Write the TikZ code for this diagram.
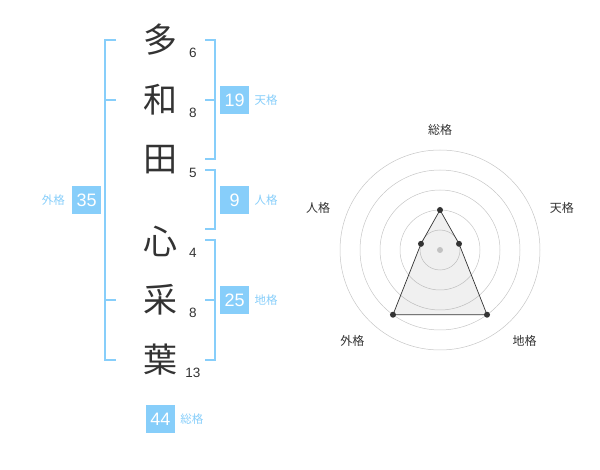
\documentclass[tikz,border=0pt]{standalone}
\usepackage{fontspec}
\setmainfont{Liberation Sans}
\newfontfamily\jpfont{Noto Sans CJK JP}
\usetikzlibrary{positioning}
\definecolor{kakublau}{HTML}{87CEFA}
\definecolor{textgrau}{HTML}{333333}

\begin{document}
\begin{tikzpicture}[
        x=1pt, y=-1pt,
        zeichen/.style={font=\jpfont\fontsize{34}{34}\selectfont, text=textgrau, inner sep=0pt},
        strich/.style={font=\fontsize{13.5}{13.5}\selectfont, text=textgrau, inner sep=0pt},
        wert/.style={fill=kakublau, text=white, minimum width=29pt, minimum height=28pt, inner sep=0pt, font=\fontsize{18}{18}\selectfont},
        kaku/.style={text=kakublau, font=\jpfont\fontsize{11.5}{11.5}\selectfont, inner sep=0pt},
        klammer/.style={draw=kakublau, line width=1.3pt},
        ring/.style={draw=gray!45, line width=0.5pt},
        achse/.style={text=textgrau, font=\jpfont\fontsize{12}{12}\selectfont, inner sep=0pt},
        punkt/.style={circle, fill=textgrau, inner sep=0pt, minimum size=6pt}
    ]

    \useasboundingbox (0,0) rectangle (600,470);

    % Schriftzeichen des Namens
    \node[zeichen] (z1) at (160,40) {多};
    \node[zeichen] (z2) at (160,100) {和};
    \node[zeichen] (z3) at (160,160) {田};
    \node[zeichen] (z4) at (160,241) {心};
    \node[zeichen] (z5) at (160,300) {采};
    \node[zeichen] (z6) at (160,360) {葉};

    % Strichzahlen
    \node[strich] (s1) at (193,53) {6};
    \node[strich] (s2) at (193,113) {8};
    \node[strich] (s3) at (193,173) {5};
    \node[strich] (s4) at (193,253) {4};
    \node[strich] (s5) at (193,313) {8};
    \node[strich] (s6) at (193,373) {13};

    % Klammern
    \draw[klammer] (116,40) -- (105,40) -- (105,360) -- (116,360);
    \draw[klammer] (105,100) -- (116,100);
    \draw[klammer] (105,300) -- (116,300);
    \draw[klammer] (205,40) -- (215,40) -- (215,159) -- (205,159);
    \draw[klammer] (205,100) -- (215,100);
    \draw[klammer] (205,170) -- (215,170) -- (215,229) -- (205,229);
    \draw[klammer] (205,240) -- (215,240) -- (215,360) -- (205,360);
    \draw[klammer] (205,300) -- (215,300);

    % Werte
    \node[wert] (tenkaku) at (234.7,100) {19};
    \node[kaku, right=5pt of tenkaku] (tenlabel) {天格};
    \node[wert] (jinkaku) at (234.7,200) {9};
    \node[kaku, right=5pt of jinkaku] (jinlabel) {人格};
    \node[wert] (chikaku) at (234.7,300) {25};
    \node[kaku, right=5pt of chikaku] (chilabel) {地格};
    \node[wert] (gaikaku) at (86.7,200) {35};
    \node[kaku, left=7pt of gaikaku] (gailabel) {外格};
    \node[wert] (soukaku) at (160.5,419) {44};
    \node[kaku, right=5pt of soukaku] (soulabel) {総格};

    % Netzdiagramm
    \begin{scope}[shift={(440,250)}, y=1pt]
        \foreach \r in {20,40,...,100}
            \draw[ring] (0,0) circle[radius=\r];
        \fill[gray!40] (0,0) circle[radius=3];
        \coordinate (sou) at (90:40);
        \coordinate (ten) at (18:20);
        \coordinate (chi) at (-54:80);
        \coordinate (gai) at (-126:80);
        \coordinate (jin) at (162:20);
        \draw[textgrau, line width=0.7pt, fill=gray, fill opacity=0.12] (sou) -- (ten) -- (chi) -- (gai) -- (jin) -- cycle;
        \foreach \p in {sou,ten,chi,gai,jin}
            \node[punkt] at (\p) {};
        \node[achse] (asou) at (90:120) {総格};
        \node[achse] (aten) at (19:129) {天格};
        \node[achse] (ajin) at (161:129) {人格};
        \node[achse] (achi) at (-47:124) {地格};
        \node[achse] (agai) at (-134:126) {外格};
    \end{scope}

\end{tikzpicture}
\end{document}
